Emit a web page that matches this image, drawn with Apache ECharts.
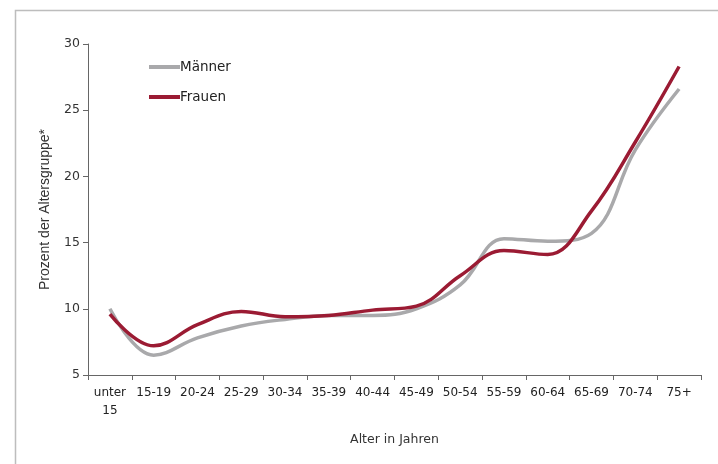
<!DOCTYPE html>
<html>
<head>
<meta charset="utf-8">
<script src="https://cdn.jsdelivr.net/npm/echarts@6/dist/echarts.min.js"></script>
<style>html,body{margin:0;padding:0;background:#fff;}#c{width:718px;height:464px;}</style>
</head>
<body>
<div id="c"></div>
<script>
var categories = ['unter\n15','15-19','20-24','25-29','30-34','35-39','40-44','45-49','50-54','55-59','60-64','65-69','70-74','75+'];
var maenner = [10.0, 6.5, 7.8, 8.7, 9.2, 9.5, 9.5, 10.0, 11.8, 15.3, 15.1, 15.7, 22.0, 26.6];
var frauen  = [9.6, 7.2, 8.8, 9.8, 9.4, 9.5, 9.9, 10.2, 12.5, 14.4, 14.1, 17.4, 22.6, 28.3];
var yTicks = {min: 5, max: 30, interval: 5};

var chart = echarts.init(document.getElementById('c'), null, {renderer: 'canvas'});
var font = 'DejaVu Sans';
chart.setOption({
  animation: false,
  graphic: [{
    type: 'rect', left: 13, top: 8, shape: {width: 720, height: 480},
    style: {fill: 'none', stroke: '#bdbdbd', lineWidth: 1.5}, silent: true
  }],
  grid: {left: 88, right: 17, top: 44, bottom: 89},
  legend: {
    orient: 'vertical', left: 144, top: 55, itemGap: 16,
    icon: 'rect', itemWidth: 31, itemHeight: 4,
    textStyle: {fontFamily: font, fontSize: 13.5, color: '#222', padding: [0, 0, 0, -5]},
    data: ['Männer', 'Frauen']
  },
  xAxis: {
    type: 'category', data: categories, boundaryGap: true,
    name: 'Alter in Jahren', nameLocation: 'middle', nameGap: 58,
    nameTextStyle: {fontFamily: font, fontSize: 12.5, color: '#333'},
    axisLine: {lineStyle: {color: '#666', width: 1}},
    axisTick: {show: true, length: 5, interval: 0, lineStyle: {color: '#666'}},
    axisLabel: {interval: 0, margin: 9, fontFamily: font, fontSize: 12, color: '#222', lineHeight: 18}
  },
  yAxis: {
    type: 'value', min: yTicks.min, max: yTicks.max, interval: yTicks.interval,
    name: 'Prozent der Altersgruppe*', nameLocation: 'middle', nameGap: 36, nameRotate: 90,
    nameTextStyle: {fontFamily: 'Liberation Sans', fontSize: 14, color: '#333'},
    axisLine: {show: true, lineStyle: {color: '#666', width: 1}},
    axisTick: {show: true, length: 5, lineStyle: {color: '#666'}},
    axisLabel: {margin: 8, fontFamily: font, fontSize: 12.5, color: '#333'},
    splitLine: {show: false}
  },
  series: [
    {name: 'Männer', type: 'line', data: maenner, smooth: 0.4, symbol: 'none',
     lineStyle: {color: '#a9a9ab', width: 3.5}, itemStyle: {color: '#a9a9ab'}},
    {name: 'Frauen', type: 'line', data: frauen, smooth: 0.4, symbol: 'none',
     lineStyle: {color: '#9b1b33', width: 3.5}, itemStyle: {color: '#9b1b33'}}
  ]
});
</script>
</body>
</html>
